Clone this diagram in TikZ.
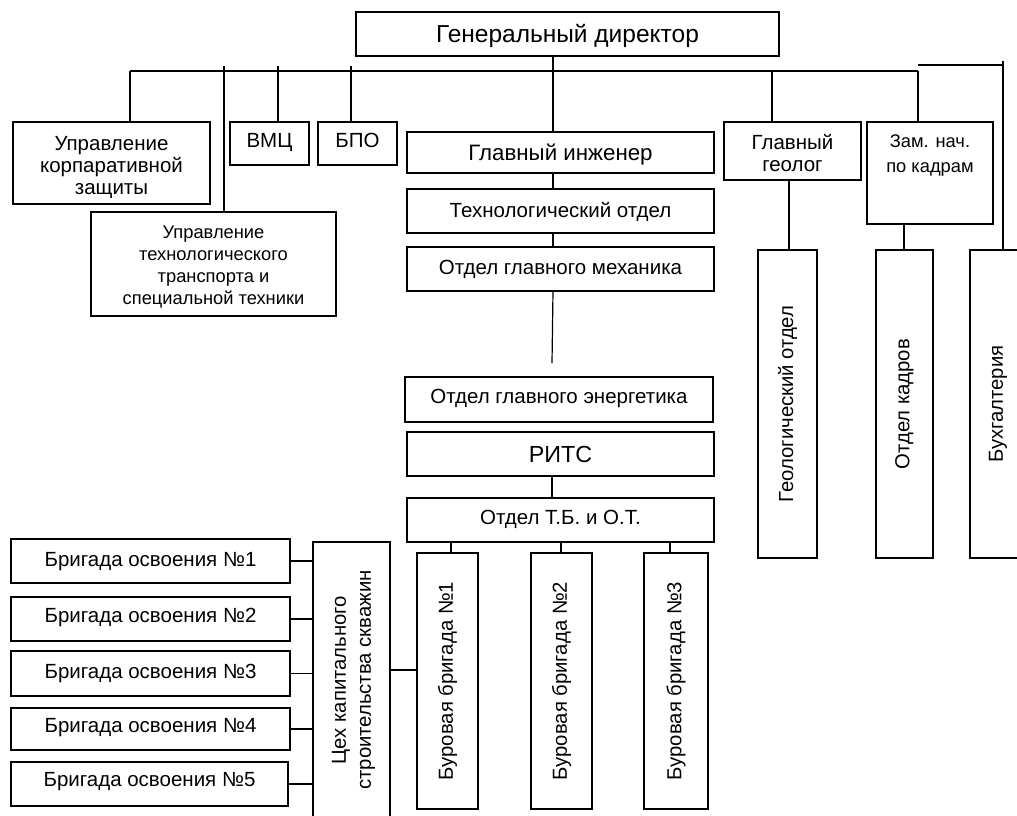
\documentclass[tikz,border=0pt]{standalone}
\usepackage{fontspec}
\setmainfont{Liberation Sans}
\newcommand\fs[2]{\fontsize{#1}{#2}\selectfont}
\begin{document}
\begin{tikzpicture}[x=1pt,y=-1pt,
  box/.style={draw, line width=1.2pt, inner sep=0pt, outer sep=0pt, align=center, font=\fs{20.5}{22}},
  tx/.style={text height=14.8pt, text depth=#1},
  tx/.default=0pt,
  ln/.style={line width=1.2pt},
  multi/.style={align=center, inner sep=0pt},
  vtext/.style={rotate=90, font=\fs{20.3}{25}, align=center, inner sep=0pt}]
\useasboundingbox (0,0) rectangle (1017,816);
\clip (0,0) rectangle (1017,816);

% top
\node[box, font=\fs{24.5}{26}, text height=17.6pt, text depth=0pt, minimum width=423pt, minimum height=44pt] (gd) at (567.5,34) {Генеральный директор};

% left group
\node[box, minimum width=197pt, minimum height=82pt,
  label={[multi, font=\fs{20.5}{22}, yshift=-4.5pt]center:Управление\\корпаративной\\защиты}] (upk) at (111.5,163) {};
\node[box, minimum width=245pt, minimum height=104pt,
  label={[multi, font=\fs{18.3}{22.3}, yshift=-3pt]center:Управление\\технологического\\транспорта и\\специальной техники}] (utt) at (213.5,264) {};
\node[box, tx=7pt, minimum width=79pt, minimum height=43pt] (vmc) at (269.5,143.5) {ВМЦ};
\node[box, tx=7pt, minimum width=79pt, minimum height=43pt] (bpo) at (357.5,143.5) {БПО};

% main column
\node[box, font=\fs{22.3}{24}, text height=16pt, text depth=0pt, minimum width=307pt, minimum height=41pt] (gi) at (560.5,152.5) {Главный инженер};
\node[box, tx=2pt, minimum width=307pt, minimum height=44pt] (to) at (560.5,211) {Технологический отдел};
\node[box, tx=4pt, minimum width=307pt, minimum height=44pt] (ogm) at (560.5,269) {Отдел главного механика};
\node[box, tx=7pt, minimum width=308pt, minimum height=45pt] (oge) at (559,399.5) {Отдел главного энергетика};
\node[box, font=\fs{23.3}{25}, text height=16.8pt, text depth=0pt, minimum width=307pt, minimum height=44pt] (rits) at (560.5,454) {РИТС};
\node[box, tx=6pt, minimum width=307pt, minimum height=44pt] (otb) at (560.5,520) {Отдел Т.Б. и О.Т.};

\node[box, minimum width=61pt, minimum height=256pt, label={[vtext]center:Буровая бригада №1}] (bb1) at (447.5,681) {};
\node[box, minimum width=61pt, minimum height=256pt, label={[vtext]center:Буровая бригада №2}] (bb2) at (561.5,681) {};
\node[box, minimum width=64pt, minimum height=256pt, label={[vtext]center:Буровая бригада №3}] (bb3) at (676,681) {};

% right group
\node[box, minimum width=137pt, minimum height=58pt,
  label={[multi, font=\fs{20.5}{21.5}, yshift=-2pt]center:Главный\\геолог}] (gg) at (792.5,151) {};
\node[box, minimum width=59pt, minimum height=308pt, label={[vtext]center:Геологический отдел}] (god) at (787.5,404) {};
\node[box, minimum width=126pt, minimum height=102pt] (zam) at (930,173) {};
\node[anchor=north, multi, font=\fs{18.3}{24.5}] (zamt) at (930,135) {Зам. нач.\\по кадрам};
\node[box, minimum width=57pt, minimum height=308pt, label={[vtext]center:Отдел кадров}] (ok) at (904.5,404) {};
\node[box, minimum width=56pt, minimum height=308pt, label={[vtext]center:Бухгалтерия}] (buh) at (998,404) {};

% bottom left
\node[box, minimum width=77pt, minimum height=276pt, label={[xshift=2pt, vtext]center:Цех капитального\\строительства скважин}] (ceh) at (351.5,680) {};
\node[box, tx=4pt, minimum width=279pt, minimum height=44pt] (bo1) at (150.5,561) {Бригада освоения №1};
\node[box, tx=8pt, minimum width=279pt, minimum height=44pt] (bo2) at (150.5,619) {Бригада освоения №2};
\node[box, tx=5pt, minimum width=279pt, minimum height=45pt] (bo3) at (150.5,673.5) {Бригада освоения №3};
\node[box, tx=8pt, minimum width=279pt, minimum height=42pt] (bo4) at (150.5,729) {Бригада освоения №4};
\node[box, tx=10pt, minimum width=277pt, minimum height=44pt] (bo5) at (149.5,784) {Бригада освоения №5};

% connectors
\coordinate (bL) at (130,71);
\coordinate (bR) at (918,71);
\draw[ln] (bL) -- (bR);
\draw[ln] (bL) -- (bL |- upk.north);
\draw[ln] (bR) -- (bR |- zam.north);
\coordinate (tU) at (224,66);
\draw[ln] (tU) -- (tU |- utt.north);
\coordinate (tV) at (278,66);
\draw[ln] (tV) -- (tV |- vmc.north);
\coordinate (tB) at (351,66);
\draw[ln] (tB) -- (tB |- bpo.north);
\coordinate (tG) at (772,71);
\draw[ln] (tG) -- (tG |- gg.north);

\coordinate (mx) at (553,71);
\draw[ln] (mx |- gd.south) -- (mx |- gi.north);
\draw[ln] (mx |- gi.south) -- (mx |- to.north);
\draw[ln] (mx |- to.south) -- (mx |- ogm.north);
\coordinate (mEnd) at (552,363);
\draw[ln] (mx |- ogm.south) -- (mEnd);
\coordinate (mr) at (552,0);
\draw[ln] (mr |- rits.south) -- (mr |- otb.north);

\coordinate (c1) at (451,0);
\coordinate (c2) at (561,0);
\coordinate (c3) at (670,0);
\draw[ln] (c1 |- otb.south) -- (c1 |- bb1.north);
\draw[ln] (c2 |- otb.south) -- (c2 |- bb2.north);
\draw[ln] (c3 |- otb.south) -- (c3 |- bb3.north);

\coordinate (rA) at (918,65);
\coordinate (rB) at (1003,65);
\coordinate (rT) at (1003,61);
\draw[ln] (rA) -- (rB);
\draw[ln] (rT) -- (rT |- buh.north);

\coordinate (gx) at (789,0);
\draw[ln] (gx |- gg.south) -- (gx |- god.north);
\coordinate (zx) at (904,0);
\draw[ln] (zx |- zam.south) -- (zx |- ok.north);

\foreach \i in {1,...,5} {
  \draw[ln] (bo\i.east) -- (bo\i.east -| ceh.west);
}
\coordinate (cy) at (0,670);
\draw[ln] (cy -| ceh.east) -- (cy -| bb1.west);
\end{tikzpicture}
\end{document}
